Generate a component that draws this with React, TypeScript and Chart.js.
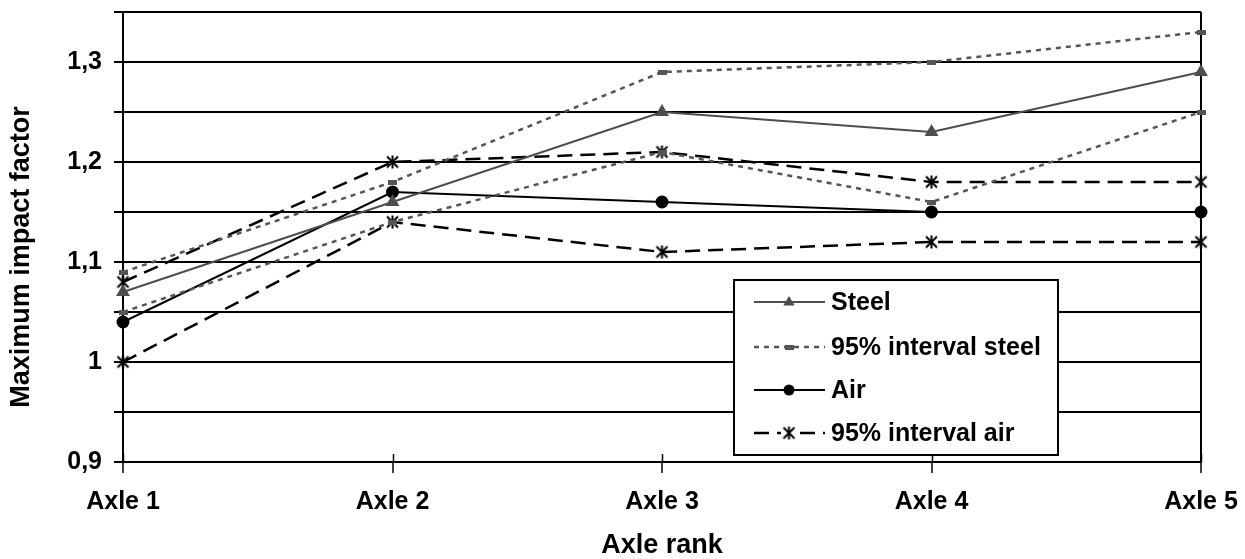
import React, { useEffect, useRef } from 'react';
import { Chart, registerables } from 'chart.js';

Chart.register(...registerables);

// ---- data ----
const categories = ['Axle 1', 'Axle 2', 'Axle 3', 'Axle 4', 'Axle 5'];
const steel = [1.07, 1.16, 1.25, 1.23, 1.29];
const steelUpper = [1.09, 1.18, 1.29, 1.3, 1.33];
const steelLower = [1.05, 1.14, 1.21, 1.16, 1.25];
const air = [1.04, 1.17, 1.16, 1.15, 1.15];
const airUpper = [1.08, 1.2, 1.21, 1.18, 1.18];
const airLower = [1.0, 1.14, 1.11, 1.12, 1.12];
const legendLabels = ['Steel', '95% interval steel', 'Air', '95% interval air'];
const yTitle = 'Maximum impact factor';
const xTitle = 'Axle rank';
const yMin = 0.9;
const yMax = 1.35;
const yStep = 0.05;

const FONT = '"Liberation Sans", Arial, sans-serif';
const STEEL = '#4d4d4d';
const STEEL_DOT = '#555555';

function makeRect(): HTMLCanvasElement {
  const c = document.createElement('canvas');
  c.width = 9;
  c.height = 5;
  const g = c.getContext('2d')!;
  g.fillStyle = STEEL_DOT;
  g.fillRect(0, 0, 9, 5);
  return c;
}

function makeStar(): HTMLCanvasElement {
  const c = document.createElement('canvas');
  c.width = 15;
  c.height = 15;
  const g = c.getContext('2d')!;
  g.strokeStyle = '#000';
  g.lineWidth = 2;
  g.beginPath();
  g.moveTo(2, 2);
  g.lineTo(13, 13);
  g.moveTo(13, 2);
  g.lineTo(2, 13);
  g.moveTo(7.5, 1);
  g.lineTo(7.5, 14);
  g.stroke();
  return c;
}

export default function App() {
  const ref = useRef<HTMLCanvasElement | null>(null);

  useEffect(() => {
    if (!ref.current) return;
    const rectImg = makeRect();
    const starImg = makeStar();

    const steelDs = {
      label: legendLabels[0],
      data: steel,
      borderColor: STEEL,
      backgroundColor: STEEL,
      borderWidth: 2,
      pointStyle: 'triangle',
      pointRadius: 8,
      pointBorderWidth: 0,
      clip: false,
    };
    const steelIntStyle = {
      borderColor: STEEL_DOT,
      backgroundColor: STEEL_DOT,
      borderWidth: 2.5,
      borderDash: [5, 5],
      pointStyle: rectImg,
      pointRadius: 5,
      clip: false,
    };
    const airDs = {
      label: legendLabels[2],
      data: air,
      borderColor: '#000',
      backgroundColor: '#000',
      borderWidth: 2,
      pointStyle: 'circle',
      pointRadius: 6.5,
      pointBorderWidth: 0,
      clip: false,
    };
    const airIntStyle = {
      borderColor: '#000',
      backgroundColor: '#000',
      borderWidth: 2.5,
      borderDash: [15, 8],
      pointStyle: starImg,
      pointRadius: 7,
      clip: false,
    };

    const legendEntries = [
      { label: legendLabels[0], color: STEEL, width: 2, dash: [] as number[], marker: 'triangle' },
      { label: legendLabels[1], color: STEEL_DOT, width: 2.5, dash: [5, 5], marker: 'rect' },
      { label: legendLabels[2], color: '#000', width: 2, dash: [] as number[], marker: 'circle' },
      { label: legendLabels[3], color: '#000', width: 2.5, dash: [15, 8], marker: 'star' },
    ];

    const overlay = {
      id: 'overlay',
      afterDraw(chart: any) {
        const { ctx, chartArea, scales } = chart;
        const xs = scales.x;
        ctx.save();
        // short tick marks crossing above the x axis
        ctx.strokeStyle = '#000';
        ctx.lineWidth = 1.5;
        for (let i = 0; i < categories.length; i++) {
          const px = Math.round(xs.getPixelForTick(i)) + 0.5;
          ctx.beginPath();
          ctx.moveTo(px, chartArea.bottom - 8);
          ctx.lineTo(px, chartArea.bottom);
          ctx.stroke();
        }
        // legend box
        const lx = chartArea.left + 611;
        const ly = chartArea.top + 268;
        const lw = 324;
        const lh = 175;
        ctx.fillStyle = '#fff';
        ctx.fillRect(lx, ly, lw, lh);
        ctx.strokeStyle = '#000';
        ctx.lineWidth = 2;
        ctx.strokeRect(lx, ly, lw, lh);
        const rowY = [22, 67, 110, 153];
        legendEntries.forEach((e, i) => {
          const y = ly + rowY[i];
          ctx.save();
          ctx.strokeStyle = e.color;
          ctx.lineWidth = e.width;
          ctx.setLineDash(e.dash);
          ctx.beginPath();
          ctx.moveTo(lx + 20, y);
          ctx.lineTo(lx + 91, y);
          ctx.stroke();
          ctx.restore();
          const mx = lx + 55;
          ctx.fillStyle = e.color;
          if (e.marker === 'triangle') {
            const r = 6;
            ctx.beginPath();
            ctx.moveTo(mx, y - r);
            ctx.lineTo(mx + r * 0.95, y + r * 0.6);
            ctx.lineTo(mx - r * 0.95, y + r * 0.6);
            ctx.closePath();
            ctx.fill();
          } else if (e.marker === 'circle') {
            ctx.beginPath();
            ctx.arc(mx, y, 5.5, 0, Math.PI * 2);
            ctx.fill();
          } else if (e.marker === 'rect') {
            ctx.drawImage(rectImg, mx - rectImg.width / 2, y - rectImg.height / 2);
          } else {
            ctx.fillStyle = '#fff';
            ctx.fillRect(mx - 8, y - 2, 16, 4);
            ctx.drawImage(starImg, mx - starImg.width / 2, y - starImg.height / 2);
          }
          ctx.fillStyle = '#000';
          ctx.font = `bold 25px ${FONT}`;
          ctx.textAlign = 'left';
          ctx.textBaseline = 'middle';
          ctx.fillText(e.label, lx + 97, y + 1);
        });
        // y axis title
        ctx.translate(22, 257);
        ctx.rotate(-Math.PI / 2);
        ctx.fillStyle = '#000';
        ctx.font = `bold 27px ${FONT}`;
        ctx.textAlign = 'center';
        ctx.textBaseline = 'middle';
        ctx.fillText(yTitle, 0, 0);
        ctx.restore();
      },
    };

    const chart = new Chart(ref.current, {
      type: 'line',
      data: {
        labels: categories,
        datasets: [
          steelDs,
          { label: 'upper steel', data: steelUpper, ...steelIntStyle },
          { label: 'lower steel', data: steelLower, ...steelIntStyle },
          airDs,
          { label: 'upper air', data: airUpper, ...airIntStyle },
          { label: 'lower air', data: airLower, ...airIntStyle },
        ] as any,
      },
      options: {
        animation: false,
        responsive: true,
        maintainAspectRatio: false,
        layout: { padding: { top: 12, right: 44, left: 0, bottom: 0 } } as any,
        elements: { line: { tension: 0 } },
        plugins: { legend: { display: false }, tooltip: { enabled: false } },
        scales: {
          x: {
            offset: false,
            afterFit: (s: any) => {
              s.height = 97;
              s.paddingLeft = 0;
              s.paddingRight = 0;
              s.paddingTop = 0;
              s.paddingBottom = 0;
            },
            grid: {
              offset: false,
              color: (c: any) => (c.index === categories.length - 1 ? '#000' : 'rgba(0,0,0,0)'),
              lineWidth: 2,
              tickColor: '#000',
              tickWidth: 1.5,
              tickLength: 11,
            },
            border: { display: true, color: '#000', width: 2 },
            ticks: {
              color: '#000',
              padding: 14,
              maxRotation: 0,
              font: { family: FONT, size: 25, weight: 'bold' },
            },
            title: {
              display: true,
              text: xTitle,
              color: '#000',
              font: { family: FONT, size: 27, weight: 'bold', lineHeight: 1 },
              padding: { top: 0, bottom: 0 },
            },
          },
          y: {
            min: yMin,
            max: yMax,
            afterFit: (s: any) => {
              s.width = 123;
              s.paddingLeft = 0;
              s.paddingRight = 0;
              s.paddingTop = 0;
              s.paddingBottom = 0;
            },
            grid: {
              color: '#000',
              lineWidth: 2,
              tickLength: 9,
            },
            border: { display: true, color: '#000', width: 2 },
            ticks: {
              stepSize: yStep,
              color: '#000',
              padding: 12,
              font: { family: FONT, size: 25, weight: 'bold' },
              callback: (v: any) => {
                const n = Math.round(Number(v) * 100);
                if (n % 10 !== 0) return '';
                return String(n / 100).replace('.', ',');
              },
            },
          },
        },
      },
      plugins: [overlay],
    });
    return () => chart.destroy();
  }, []);

  return (
    <div style={{ position: 'absolute', left: 0, top: 0, width: '1245px', height: '559px' }}>
      <canvas ref={ref} />
    </div>
  );
}
